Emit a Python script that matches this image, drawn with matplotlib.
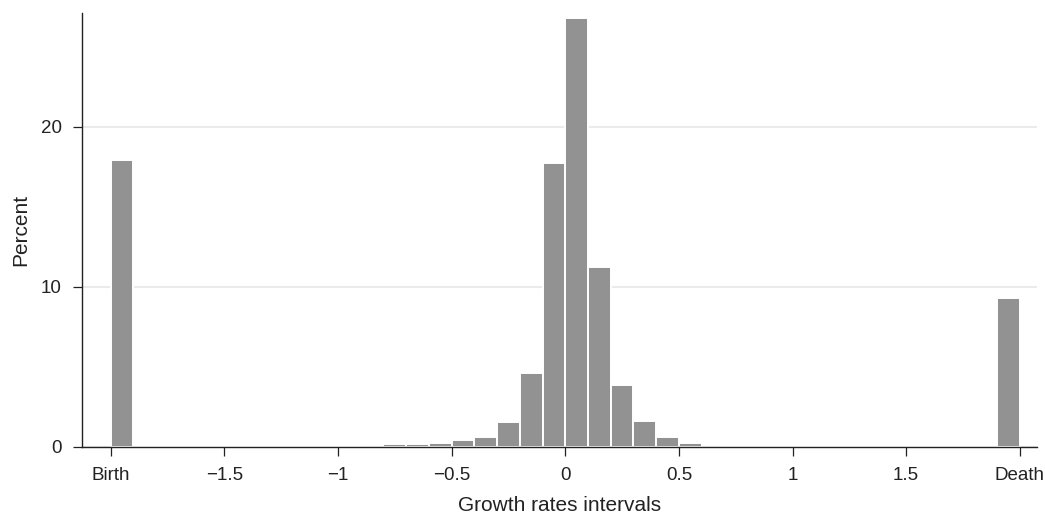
import matplotlib.pyplot as plt
import numpy as np

plt.rcParams['font.family'] = ['Liberation Sans', 'DejaVu Sans']

# histogram of growth rates, bins of 0.1 from -2 (Birth) to 2 (Death)
bin_left = np.round(np.arange(-2.0, 2.0, 0.1), 1)
percent = [17.9,                                      # Birth
           0, 0, 0, 0, 0, 0, 0, 0, 0, 0,              # -1.9 .. -1.0
           0.10, 0.17, 0.17, 0.23, 0.42, 0.63, 1.56,  # -0.9 .. -0.3
           4.58, 17.7, 26.8, 11.2, 3.87, 1.6, 0.63,   # -0.2 .. 0.4
           0.24, 0.10,                                # 0.5, 0.6
           0, 0, 0, 0, 0, 0, 0, 0, 0, 0, 0, 0,        # 0.7 .. 1.8
           9.31]                                      # Death

tick_pos = [-2, -1.5, -1, -0.5, 0, 0.5, 1, 1.5, 2]
tick_lab = ['Birth', '\u22121.5', '\u22121', '\u22120.5', '0', '0.5', '1', '1.5', 'Death']

fig = plt.figure(figsize=(10.45, 5.14), dpi=100)
ax = fig.add_axes([0.0785, 0.131, 0.9135, 0.8437])

ax.bar(bin_left, percent, width=0.1, align='edge', color='#929292',
       edgecolor='white', linewidth=1.4, zorder=2)

ax.set_xlim(-2.126, 2.074)
ax.set_ylim(0, 27.1)
ax.set_xticks(tick_pos)
ax.set_xticklabels(tick_lab)
ax.set_yticks([0, 10, 20])
ax.yaxis.grid(True, color='#ebebeb', linewidth=1.5, zorder=0)
ax.set_axisbelow(True)

for s in ['top', 'right']:
    ax.spines[s].set_visible(False)
for s in ['left', 'bottom']:
    ax.spines[s].set_linewidth(1.0)
    ax.spines[s].set_color('#222222')

ax.tick_params(length=6.5, width=0.9, labelsize=13.5, color='#222222',
               labelcolor='#222222', pad=8)
ax.set_xlabel('Growth rates intervals', fontsize=15, color='#222222', labelpad=9)
ax.set_ylabel('Percent', fontsize=15, color='#222222', labelpad=8)

fig.savefig('out.png', dpi=100)
